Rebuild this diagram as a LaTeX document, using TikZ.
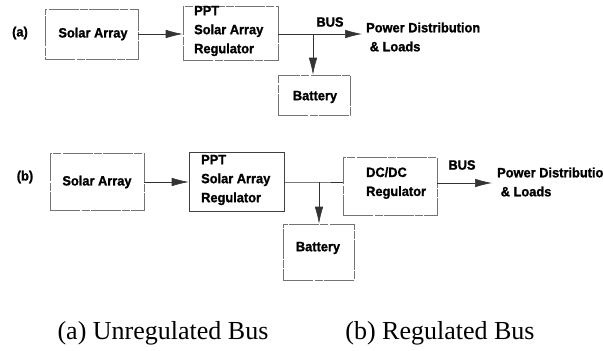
\documentclass[tikz,border=0pt]{standalone}
\usepackage{fontspec}
\setsansfont{Liberation Sans}[FakeStretch=0.95,FakeBold=1.2]
\setmainfont{Liberation Serif}
\usetikzlibrary{arrows.meta}
\tikzset{
  blk/.style={draw=black!55, line width=0.6pt, dash pattern=on 30pt off 1.5pt on 8pt off 1pt, inner sep=0pt},
  solidblk/.style={draw=black!75, line width=0.6pt, inner sep=0pt},
  lbl/.style={font=\sffamily\bfseries\fontsize{13.5}{19}\selectfont, inner sep=0pt},
  captiontext/.style={font=\rmfamily\fontsize{26}{28}\selectfont, inner sep=0pt},
  wire/.style={draw=black!80, line width=0.6pt},
  flow/.style={wire, -{Latex[length=17pt,width=8.5pt]}},
}
\begin{document}
\begin{tikzpicture}[x=1pt,y=-1pt]
\useasboundingbox (0,0) rectangle (603,351);

% ---- (a) unregulated bus ----
\node[lbl] (tagA) at (20,33) {(a)};
\node[blk, minimum width=93pt, minimum height=50pt] (saA) at (91.5,34) {};
\node[lbl] (saAt) at (93,34) {Solar Array};
\node[blk, minimum width=95pt, minimum height=54pt] (ppA) at (230.5,33) {};
\node[lbl, align=left, anchor=west] (ppAt) at (194,31) {PPT\\Solar Array\\Regulator};
\node[blk, minimum width=72pt, minimum height=40pt] (batA) at (314,95) {};
\node[lbl] (batAt) at (315,97) {Battery};
\coordinate (jA) at (313,34);
\coordinate (outA) at (362,34);
\node[lbl] (busA) at (330,22) {BUS};
\node[lbl, align=left, anchor=west] (pdA) at (366,37) {Power Distribution\\\ \& Loads};

\draw[flow] (saA.east |- jA) -- (ppA.west |- jA);
\draw[wire] (ppA.east |- jA) -- (jA);
\draw[flow] (jA) -- (outA);
\draw[flow] (jA) -- (batA.north -| jA);

% ---- (b) regulated bus ----
\node[lbl] (tagB) at (25,177) {(b)};
\node[blk, minimum width=94pt, minimum height=57pt] (saB) at (97,181.5) {};
\node[lbl] (saBt) at (97,182) {Solar Array};
\node[solidblk, minimum width=95pt, minimum height=59pt] (ppB) at (236.5,181.5) {};
\node[lbl, align=left, anchor=west] (ppBt) at (201,180) {PPT\\Solar Array\\Regulator};
\node[blk, minimum width=71pt, minimum height=56pt] (batB) at (318.5,252) {};
\node[lbl] (batBt) at (318,248) {Battery};
\node[blk, minimum width=94pt, minimum height=58pt] (dcB) at (390,186) {};
\node[lbl, align=left, anchor=west] (dcBt) at (366,183) {DC/DC\\Regulator};
\coordinate (jB) at (319,182);
\coordinate (outB) at (492,183);
\node[lbl] (busB) at (462,165) {BUS};
\node[lbl, align=left, anchor=west] (pdB) at (497,182) {Power Distributio\\\ \& Loads};

\draw[flow] (saB.east |- jB) -- (ppB.west |- jB);
\draw[wire] (ppB.east |- jB) -- (jB) -- (dcB.west |- jB);
\draw[flow] (jB) -- (batB.north -| jB);
\draw[flow] (dcB.east |- outB) -- (outB);

% ---- captions ----
\node[captiontext] (capA) at (163,333) {(a) Unregulated Bus};
\node[captiontext] (capB) at (440,333) {(b) Regulated Bus};
\end{tikzpicture}
\end{document}
